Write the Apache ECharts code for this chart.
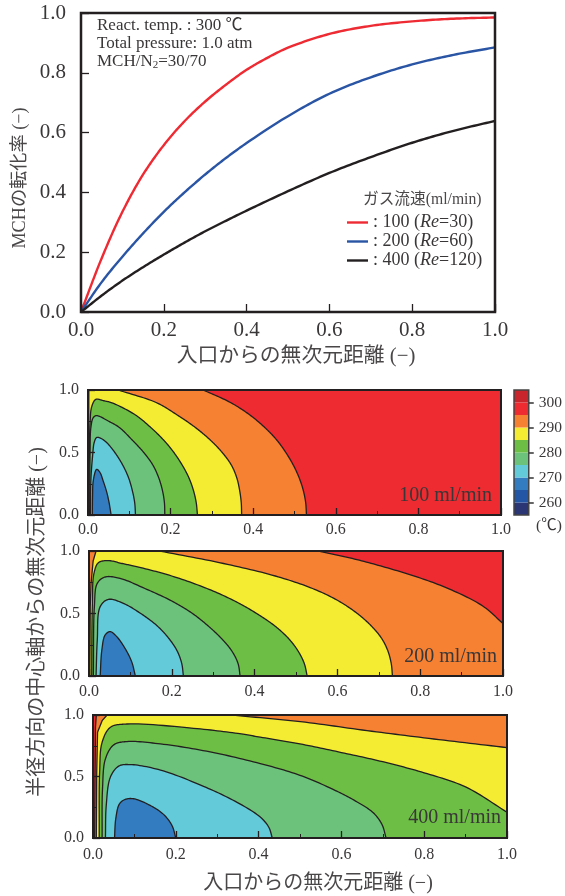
<!DOCTYPE html>
<html><head><meta charset="utf-8">
<style>html,body{margin:0;padding:0;background:#fff}#c{width:565px;height:896px}</style>
<script src="https://cdn.jsdelivr.net/npm/echarts@6/dist/echarts.min.js"></script>
</head><body><div id="c"></div>
<script>
// ---- conversion curves [x, conversion]
const conv100 = [[0,0],[0.05,0.18],[0.1,0.335],[0.15,0.46],[0.2,0.558],[0.25,0.638],[0.3,0.704],[0.35,0.76],[0.4,0.81],[0.45,0.85],[0.5,0.884],[0.6,0.93],[0.7,0.957],[0.8,0.972],[0.9,0.981],[1,0.985]];
const conv200 = [[0,0],[0.05,0.1],[0.1,0.185],[0.15,0.263],[0.2,0.335],[0.25,0.4],[0.3,0.46],[0.35,0.515],[0.4,0.565],[0.5,0.655],[0.6,0.73],[0.7,0.785],[0.8,0.828],[0.9,0.86],[1,0.885]];
const conv400 = [[0,0],[0.05,0.055],[0.1,0.105],[0.15,0.15],[0.2,0.192],[0.25,0.232],[0.3,0.27],[0.35,0.305],[0.4,0.339],[0.5,0.404],[0.6,0.465],[0.7,0.518],[0.8,0.566],[0.9,0.606],[1,0.639]];
const convNames = [': 100 (Re=30)', ': 200 (Re=60)', ': 400 (Re=120)'];
const convColors = ['#EE2A33','#2A55A5','#231F20'];

// ---- contour outlines, [axial x, radial y], one list per level
const full = [[0,1],[1,1]];
const p100 = {
  t295:[[0.0005,0],[0.0005,1],[0.279,1],[0.345,0.9],[0.392,0.8],[0.428,0.7],[0.457,0.6],[0.479,0.5],[0.497,0.4],[0.511,0.3],[0.521,0.2],[0.527,0.1],[0.529,0]],
  t290:[[0.001,0],[0.002,1],[0.073,1],[0.165,0.9],[0.216,0.8],[0.26,0.7],[0.296,0.6],[0.325,0.5],[0.347,0.4],[0.36,0.3],[0.367,0.2],[0.371,0.1],[0.372,0]],
  t285:[[0.002,0],[0.003,0.4],[0.005,0.733],[0.009,0.867],[0.019,0.925],[0.037,0.915],[0.06,0.895],[0.115,0.8],[0.152,0.7],[0.183,0.6],[0.208,0.5],[0.228,0.4],[0.244,0.3],[0.255,0.2],[0.262,0.1],[0.265,0]],
  t280:[[0.004,0],[0.005,0.5],[0.007,0.7],[0.013,0.78],[0.021,0.795],[0.05,0.75],[0.076,0.7],[0.107,0.6],[0.135,0.5],[0.157,0.4],[0.171,0.3],[0.18,0.2],[0.185,0.1],[0.186,0]],
  t275:[[0.006,0],[0.007,0.28],[0.011,0.467],[0.015,0.58],[0.021,0.62],[0.03,0.615],[0.045,0.58],[0.065,0.5],[0.084,0.4],[0.098,0.3],[0.107,0.2],[0.113,0.1],[0.115,0]],
  t270:[[0.0105,0],[0.011,0.15],[0.013,0.28],[0.021,0.365],[0.029,0.34],[0.037,0.27],[0.045,0.187],[0.051,0.1],[0.056,0]]
};
const p200 = {
  t295:[[0.0005,0],[0.0005,1],[0.552,1],[0.63,0.945],[0.71,0.875],[0.79,0.795],[0.871,0.695],[0.951,0.56],[1,0.42]],
  t290:[[0.002,0],[0.003,0.555],[0.005,0.741],[0.01,0.92],[0.017,1],[0.171,1],[0.325,0.9],[0.45,0.8],[0.54,0.7],[0.603,0.6],[0.648,0.5],[0.682,0.4],[0.707,0.3],[0.722,0.2],[0.73,0.1],[0.733,0]],
  t285:[[0.0065,0],[0.008,0.555],[0.012,0.821],[0.023,0.907],[0.047,0.923],[0.08,0.9],[0.115,0.875],[0.2,0.8],[0.285,0.7],[0.352,0.6],[0.405,0.5],[0.449,0.4],[0.482,0.3],[0.505,0.2],[0.52,0.1],[0.527,0]],
  t280:[[0.0105,0],[0.013,0.555],[0.02,0.741],[0.039,0.792],[0.075,0.781],[0.135,0.7],[0.2,0.6],[0.25,0.5],[0.288,0.4],[0.32,0.3],[0.345,0.2],[0.36,0.1],[0.365,0]],
  t275:[[0.017,0],[0.02,0.288],[0.027,0.555],[0.047,0.613],[0.083,0.581],[0.125,0.5],[0.165,0.4],[0.193,0.3],[0.213,0.2],[0.224,0.1],[0.228,0]],
  t270:[[0.027,0],[0.031,0.208],[0.039,0.328],[0.051,0.355],[0.067,0.315],[0.087,0.221],[0.103,0.115],[0.112,0]]
};
const p400 = {
  t295:[[0.004,0],[0.005,0.5],[0.006,0.9],[0.008,1],[1,1]],
  t290:[[0.008,0],[0.009,0.535],[0.011,0.86],[0.022,0.954],[0.034,1],[0.332,1],[0.501,0.946],[0.662,0.873],[0.823,0.805],[1,0.735]],
  t285:[[0.015,0],[0.016,0.535],[0.022,0.778],[0.042,0.9],[0.082,0.927],[0.243,0.892],[0.35,0.85],[0.404,0.82],[0.5,0.765],[0.6,0.695],[0.7,0.62],[0.8,0.53],[0.9,0.415],[1,0.21]],
  t280:[[0.022,0],[0.023,0.4],[0.03,0.643],[0.05,0.757],[0.082,0.784],[0.163,0.765],[0.283,0.7],[0.404,0.605],[0.5,0.51],[0.58,0.395],[0.637,0.295],[0.677,0.205],[0.698,0.11],[0.708,0]],
  t275:[[0.03,0],[0.032,0.265],[0.042,0.495],[0.062,0.584],[0.09,0.597],[0.163,0.552],[0.267,0.42],[0.348,0.29],[0.404,0.17],[0.425,0.085],[0.433,0]],
  t270:[[0.052,0],[0.055,0.157],[0.064,0.278],[0.078,0.314],[0.098,0.319],[0.138,0.265],[0.171,0.19],[0.191,0.1],[0.2,0]]
};
const levelKeys = ['t295','t290','t285','t280','t275','t270'];
// how many leading points of each outline are joined by straight edges
const lead100 = {t295:2,t290:2};
const lead200 = {t295:2,t290:5};
const lead400 = {t295:4,t290:5};

// ---- colour scale
const bandLows = [255,260,265,270,275,280,285,290,295,300];
const bandColors = ['#2B3674','#2456A6','#337CC0','#62CAD9','#6CC17B','#6DBE45','#F3EC32','#F68133','#EE2B30','#C9252C'];
const levelColors = {t295:'#F68133',t290:'#F3EC32',t285:'#6DBE45',t280:'#6CC17B',t275:'#62CAD9',t270:'#337CC0'};
const barTicks = [260,270,280,290,300];

const INK = '#231F20', TXT = '#3a3738', TXTJ='#4a4748';
const SERIF = '"Liberation Serif","Noto Sans CJK JP",serif';

const grids = [
  {left:81,top:13,width:414,height:299,show:true,z:5,borderColor:INK,borderWidth:2.5,backgroundColor:'transparent'},
  {left:88,top:390,width:413,height:125,show:true,z:5,borderColor:INK,borderWidth:2,backgroundColor:'transparent'},
  {left:89,top:551,width:414,height:125,show:true,z:5,borderColor:INK,borderWidth:2,backgroundColor:'transparent'},
  {left:93,top:715,width:414,height:123,show:true,z:5,borderColor:INK,borderWidth:2,backgroundColor:'transparent'},
  {left:514,top:390,width:18,height:125,show:true,z:5,borderColor:'#444',borderWidth:1.5,backgroundColor:'transparent'}
];
function xAx(i,big,m){return {gridIndex:i,type:'value',min:0,max:1,interval:0.2,z:6,
  axisLine:{show:false},splitLine:{show:false},
  axisTick:{inside:true,length:big?8:7,lineStyle:{color:INK,width:1.3}},
  minorTick:{show:!big,splitNumber:2,length:4,lineStyle:{color:INK,width:1}},
  minorSplitLine:{show:false},
  axisLabel:{color:TXT,fontFamily:SERIF,fontSize:big?21:16,margin:m,formatter:v=>v.toFixed(1)}};}
function yAx(i,big){return {gridIndex:i,type:'value',min:0,max:1,interval:big?0.2:0.5,z:6,
  axisLine:{show:false},splitLine:{show:false},
  axisTick:{inside:true,length:big?8:7,lineStyle:{color:INK,width:1.3}},
  minorTick:{show:!big,splitNumber:2,length:4,lineStyle:{color:INK,width:1}},
  minorSplitLine:{show:false},
  axisLabel:{color:TXT,fontFamily:SERIF,fontSize:big?21:16,margin:big?15:9,padding:[4,0,0,0],formatter:v=>v.toFixed(1)}};}

// centripetal Catmull-Rom through pixel positions, for drawing only
function spline(P,n){
  const out=[];const N=P.length;
  if(N<3) return P.slice();
  const at=i=>{
    if(i<0) return [2*P[0][0]-P[1][0],2*P[0][1]-P[1][1]];
    if(i>=N) return [2*P[N-1][0]-P[N-2][0],2*P[N-1][1]-P[N-2][1]];
    return P[i];};
  const d=(a,b)=>Math.max(1e-3,Math.sqrt(Math.hypot(a[0]-b[0],a[1]-b[1])));
  const mix=(a,b,ta,tb,t)=>[(tb-t)/(tb-ta)*a[0]+(t-ta)/(tb-ta)*b[0],(tb-t)/(tb-ta)*a[1]+(t-ta)/(tb-ta)*b[1]];
  for(let i=0;i<N-1;i++){
    const p0=at(i-1),p1=at(i),p2=at(i+1),p3=at(i+2);
    const t0=0,t1=t0+d(p0,p1),t2=t1+d(p1,p2),t3=t2+d(p2,p3);
    for(let k=0;k<n;k++){
      const t=t1+(t2-t1)*k/n;
      const a1=mix(p0,p1,t0,t1,t),a2=mix(p1,p2,t1,t2,t),a3=mix(p2,p3,t2,t3,t);
      const b1=mix(a1,a2,t0,t2,t),b2=mix(a2,a3,t1,t3,t);
      out.push(mix(b1,b2,t1,t2,t));
    }
  }
  out.push(P[N-1]);
  return out;
}
function curveSeries(name,idx,pts,o){
  return {type:'custom',name:name,xAxisIndex:idx,yAxisIndex:idx,data:pts,encode:{x:0,y:1},clip:true,
    itemStyle:o.stroke?{color:o.stroke}:undefined,
    renderItem:(params,api)=>{
      if(params.dataIndex!==0) return;
      const r=params.coordSys;
      const raw=pts.map(p=>api.coord(p));
      const lead=o.lead||0;
      const drawn=o.straight?raw:raw.slice(0,lead).concat(spline(raw.slice(lead),14));
      const c=drawn.map(p=>[
        Math.min(r.x+r.width,Math.max(r.x,p[0])),
        Math.min(r.y+r.height,Math.max(r.y,p[1]))]);
      const base=api.coord([0,0])[1];
      const kids=[];
      if(o.fill){
        kids.push({type:'polygon',shape:{points:c.concat([[c[c.length-1][0],base],[c[0][0],base]])},style:{fill:o.fill,stroke:null}});
      }
      if(o.width){
        kids.push({type:'polyline',shape:{points:c},style:{fill:null,stroke:o.stroke,lineWidth:o.width,lineJoin:'round'}});
      }
      return {type:'group',children:kids};
    }};
}

const series = [];
[conv100,conv200,conv400].forEach((c,i)=>{
  series.push(curveSeries(convNames[i],0,c,{stroke:convColors[i],width:2.4}));
});
[[p100,lead100],[p200,lead200],[p400,lead400]].forEach((pp,k)=>{
  const idx=k+1,p=pp[0],ld=pp[1];
  series.push(curveSeries('bg'+idx,idx,full,{fill:'#EE2B30',straight:true}));
  levelKeys.forEach(key=>{
    series.push(curveSeries(key+'_'+idx,idx,p[key],{fill:levelColors[key],stroke:INK,width:1.3,lead:ld[key]||0}));
  });
});
series.push({type:'custom',name:'scale',xAxisIndex:4,yAxisIndex:4,
  data:bandLows.map((v,i)=>[v,v+5,i]),
  encode:{y:[0,1]},
  renderItem:(params,api)=>{
    const a=api.coord([0,api.value(0)]),b=api.coord([1,api.value(1)]);
    return {type:'rect',shape:{x:a[0],y:b[1],width:b[0]-a[0],height:a[1]-b[1]},
      style:{fill:bandColors[api.value(2)]}};
  }});

function txt(text,x,y,size,opt){opt=opt||{};
  return {type:'text',x:x,y:y,rotation:opt.rot||0,z:100,
    style:Object.assign({text:text,fontFamily:SERIF,fontSize:size,fill:opt.fill||TXT,
      align:opt.align||'left',verticalAlign:'middle'},opt.style||{})};
}

const chart = echarts.init(document.getElementById('c'),null,{renderer:'canvas'});
chart.setOption({
  animation:false,
  backgroundColor:'#fff',
  grid:grids,
  xAxis:[xAx(0,true,8),xAx(1,false,7),xAx(2,false,8),xAx(3,false,9),
    {gridIndex:4,type:'value',min:0,max:1,show:false}],
  yAxis:[yAx(0,true),yAx(1),yAx(2),yAx(3),
    {gridIndex:4,type:'value',min:255,max:305,position:'right',z:6,
     axisLine:{show:false,onZero:false},splitLine:{show:false},
     axisTick:{show:true,inside:false,length:5,customValues:barTicks,lineStyle:{color:'#333',width:1.5}},
     axisLabel:{color:TXT,fontFamily:SERIF,fontSize:15.5,margin:10,customValues:barTicks}}],
  legend:{show:true,data:convNames.map((n,i)=>({name:n,icon:'rect',itemStyle:{color:convColors[i]}})),
    left:347,top:213,orient:'vertical',padding:0,itemGap:0,
    itemWidth:21,itemHeight:2.4,selectedMode:false,
    textStyle:{color:TXT,fontFamily:SERIF,fontSize:18,lineHeight:19,
      rich:{i:{fontStyle:'italic',fontFamily:SERIF,fontSize:18,color:TXT,lineHeight:19}}},
    formatter:n=>n.replace('Re','{i|Re}')},
  series:series,
  graphic:[
    txt('React. temp. : 300 ℃',97,26,17),
    txt('Total pressure: 1.0 atm',97,44,17),
    txt('MCH/N{s|2}=30/70',97,62,17,{style:{rich:{s:{fontSize:11,fontFamily:SERIF,fill:TXT,verticalAlign:'bottom'}}}}),
    txt('ガス流速(ml/min)',363,200,15.7,{fill:TXTJ}),
    txt('MCHの転化率 (−)',20,178,18.2,{rot:Math.PI/2,align:'center',fill:TXTJ}),
    txt('入口からの無次元距離 (−)',296,357,20.8,{align:'center',fill:TXTJ}),
    txt('半径方向の中心軸からの無次元距離 (−)',38,622,20,{rot:Math.PI/2,align:'center',fill:TXTJ}),
    txt('入口からの無次元距離 (−)',318,884,20,{align:'center',fill:TXTJ}),
    txt('100 ml/min',492,496,20,{align:'right'}),
    txt('200 ml/min',497,657,20,{align:'right'}),
    txt('400 ml/min',501,818,20,{align:'right'}),
    txt('(℃)',536,526,15.5)
  ]
});
</script></body></html>
